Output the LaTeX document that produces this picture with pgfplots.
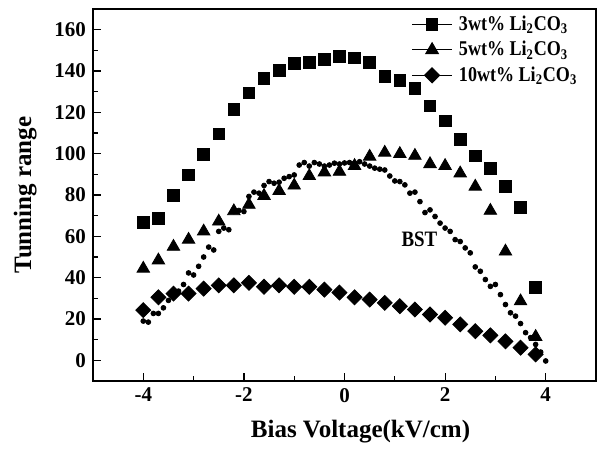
\documentclass[border=0pt]{standalone}
\usepackage{fontspec}
\setmainfont{Liberation Serif}
\usepackage{graphicx}
\usepackage{pgfplots}
\pgfplotsset{compat=1.18}
\newcommand{\cond}[1]{\scalebox{0.86}[1]{#1}}
\begin{document}
\begin{tikzpicture}
\begin{axis}[
  name=ax,
  scale only axis,
  width=251.5pt, height=186pt,
  xmin=-5, xmax=5, ymin=-10, ymax=170,
  xtick={-4,-2,0,2,4},
  ytick={0,20,...,160},
  minor x tick num=1,
  minor y tick num=1,
  xtick pos=bottom, ytick pos=left,
  tick align=inside,
  major tick length=4pt,
  minor tick length=2.5pt,
  axis line style={line width=0.8pt},
  every tick/.style={black, line width=0.6pt},
  /pgf/number format/assume math mode=true,
  ticklabel style={font=\bfseries\fontsize{10.5}{12}\selectfont},
  xlabel={Bias Voltage(kV/cm)},
  ylabel={Tunning range},
  label style={font=\bfseries\fontsize{12.5}{15}\selectfont},
  xlabel style={yshift=-2pt, xshift=8pt},
  ylabel style={yshift=2pt},
  legend cell align=left,
  legend style={draw=none, fill=none, at={(1,1)}, anchor=north east,
    xshift=-5pt, yshift=0pt,
    font=\bfseries\fontsize{10.5}{12}\selectfont,
    nodes={inner sep=1.2pt},
    column sep=2pt,
    row sep=1.5pt},
  legend image code/.code={\draw[mark repeat=2,mark phase=2,#1,sharp plot,line width=0.5pt] plot coordinates {(0pt,0pt) (10pt,0pt) (20pt,0pt)};},
  clip=false,
]
\addplot[black, only marks, mark=square*, mark size=2.9pt] coordinates {
(-4.0,66.7) (-3.7,68.8) (-3.4,79.9) (-3.1,89.7) (-2.8,99.7) (-2.5,109.5)
(-2.2,121.4) (-1.9,129.4) (-1.6,136.5) (-1.3,140.2) (-1.0,143.6) (-0.7,144.2)
(-0.4,145.7) (-0.1,147.1) (0.2,146.3) (0.5,144.2) (0.8,137.3) (1.1,135.5)
(1.4,131.5) (1.7,123.2) (2.0,115.8) (2.3,106.9) (2.6,98.9) (2.9,93.0)
(3.2,84.1) (3.5,74.0) (3.8,35.4)
};
\addlegendentry{\cond{3wt\% Li\textsubscript{2}CO\textsubscript{3}}}
\addplot[black, only marks, mark=triangle*, mark size=3.6pt] coordinates {
(-4.0,44.4) (-3.7,48.4) (-3.4,55.0) (-3.1,58.4) (-2.8,62.4) (-2.5,67.2)
(-2.2,72.2) (-1.9,75.3) (-1.6,79.6) (-1.3,82.0) (-1.0,84.6) (-0.7,89.2)
(-0.4,91.0) (-0.1,91.3) (0.2,94.1) (0.5,98.6) (0.8,100.5) (1.1,99.9)
(1.4,99.0) (1.7,95.0) (2.0,94.1) (2.3,90.5) (2.6,84.1) (2.9,72.4)
(3.2,52.7) (3.5,28.6) (3.8,11.4)
};
\addlegendentry{\cond{5wt\% Li\textsubscript{2}CO\textsubscript{3}}}
\addplot[black, only marks, mark=square*, mark size=2.65pt, mark options={rotate=45}] coordinates {
(-4.0,24.3) (-3.7,30.5) (-3.4,32.3) (-3.1,32.3) (-2.8,34.7) (-2.5,36.3)
(-2.2,36.3) (-1.9,37.5) (-1.6,35.6) (-1.3,36.3) (-1.0,35.6) (-0.7,35.6)
(-0.4,34.2) (-0.1,32.8) (0.2,30.5) (0.5,29.4) (0.8,27.8) (1.1,26.2)
(1.4,24.6) (1.7,22.2) (2.0,20.6) (2.3,17.4) (2.6,14.1) (2.9,12.1)
(3.2,9.2) (3.5,6.1) (3.8,2.9)
};
\addlegendentry{\cond{10wt\% Li\textsubscript{2}CO\textsubscript{3}}}
\addplot[black, only marks, mark=*, mark size=1.2pt, forget plot] coordinates {
(-4.0,19.0) (-3.9,18.5) (-3.8,22.7) (-3.7,22.7) (-3.6,25.4) (-3.5,29.0)
(-3.4,31.0) (-3.3,33.5) (-3.2,36.7) (-3.1,42.3) (-3.0,41.3) (-2.9,45.5)
(-2.8,50.0) (-2.7,54.8) (-2.6,53.4) (-2.5,62.4) (-2.4,64.0) (-2.3,63.2)
(-2.2,72.0) (-2.1,72.5) (-2.0,72.0) (-1.9,79.3) (-1.8,81.4) (-1.7,80.9)
(-1.6,84.6) (-1.5,86.5) (-1.4,85.7) (-1.3,86.2) (-1.2,88.1) (-1.1,88.9)
(-1.0,89.7) (-0.9,94.5) (-0.8,95.7) (-0.7,94.0) (-0.6,95.7) (-0.5,95.0)
(-0.4,94.0) (-0.3,94.5) (-0.2,95.4) (-0.1,95.0) (0.0,95.5) (0.1,95.7)
(0.2,95.5) (0.3,96.1) (0.4,95.0) (0.5,94.0) (0.6,93.0) (0.7,92.5)
(0.8,92.1) (0.9,89.2) (1.0,86.8) (1.1,86.5) (1.2,84.9) (1.3,80.9)
(1.4,81.4) (1.5,76.8) (1.6,71.5) (1.7,72.8) (1.8,69.6) (1.9,66.4)
(2.0,64.0) (2.1,62.4) (2.2,58.4) (2.3,57.5) (2.4,54.4) (2.5,52.0)
(2.6,45.2) (2.7,43.1) (2.8,39.1) (2.9,35.8) (3.0,36.7) (3.1,31.8)
(3.2,27.0) (3.3,23.0) (3.4,21.4) (3.5,17.8) (3.6,13.4) (3.7,11.0)
(3.8,7.7) (3.9,4.0) (4.0,-0.3)
};
\node[font=\bfseries\fontsize{11}{13}\selectfont] at (axis cs:1.49,58.4) {\cond{BST}};
\end{axis}
\path (ax.south west) ++(-46.5pt,-37pt) rectangle ([xshift=5.5pt,yshift=4.5pt]ax.north east);
\end{tikzpicture}
\end{document}
